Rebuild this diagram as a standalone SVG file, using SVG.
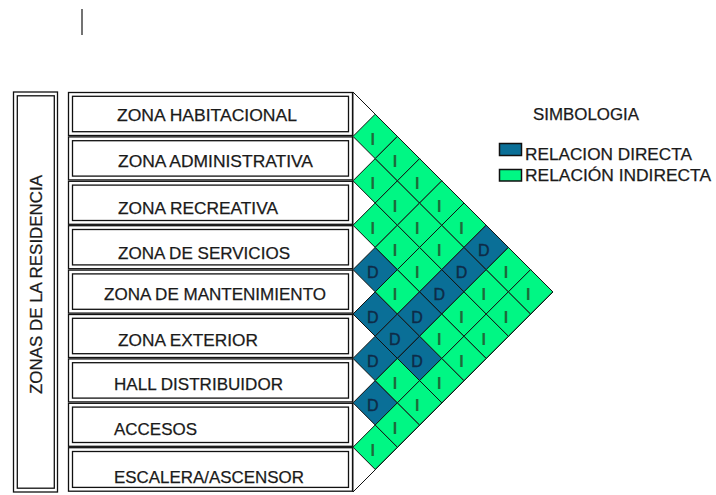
<svg xmlns="http://www.w3.org/2000/svg" xmlns:xlink="http://www.w3.org/1999/xlink" width="716" height="495" viewBox="0 0 716 495">
<style>
.t{font-family:"Liberation Sans",Arial,sans-serif;font-size:17px;fill:#1a1a1a;stroke:#1a1a1a;stroke-width:0.25}
.ob{fill:#fff;stroke:#111;stroke-width:1.3}
.ib{fill:none;stroke:#111;stroke-width:1.3}
.gi{fill:#00F784;stroke:#111;stroke-width:1}
.bd{fill:#0A6F97;stroke:#111;stroke-width:1}
.li{font-family:"Liberation Sans",Arial,sans-serif;font-size:16px;font-weight:bold;fill:#1E6A3A;text-anchor:middle}
.ld{font-family:"Liberation Sans",Arial,sans-serif;font-size:16px;fill:#0E2B47;stroke:#0E2B47;stroke-width:0.4;text-anchor:middle}
</style>
<defs>
<g id="cI"><polygon class="gi" points="-22.2,0 0,-22.2 22.2,0 0,22.2"/><text class="li" x="-2.5" y="8.5">I</text></g>
<g id="cD"><polygon class="bd" points="-22.2,0 0,-22.2 22.2,0 0,22.2"/><text class="ld" x="-2.5" y="8.5">D</text></g>
</defs>
<rect width="716" height="495" fill="#fff"/>
<line x1="82" y1="9" x2="82" y2="35" stroke="#444" stroke-width="1.5"/>

<g id="zonas-residencia">
<rect class="ob" x="13.5" y="92" width="44" height="400"/>
<rect class="ib" x="17.3" y="95.8" width="37" height="392.4"/>
<text class="t" transform="translate(42,394) rotate(-90)" textLength="219" lengthAdjust="spacingAndGlyphs">ZONAS DE LA RESIDENCIA</text>
</g>

<g id="zona-habitacional">
<rect class="ob" x="68.5" y="92.5" width="284" height="43"/><rect class="ib" x="72.5" y="96.3" width="276" height="35.4"/>
<text class="t" x="117" y="120.5" textLength="180" lengthAdjust="spacingAndGlyphs">ZONA HABITACIONAL</text>
</g>
<g id="zona-administrativa">
<rect class="ob" x="68.5" y="136.9" width="284" height="43"/><rect class="ib" x="72.5" y="140.7" width="276" height="35.4"/>
<text class="t" x="118" y="166.5" textLength="195" lengthAdjust="spacingAndGlyphs">ZONA ADMINISTRATIVA</text>
</g>
<g id="zona-recreativa">
<rect class="ob" x="68.5" y="181.3" width="284" height="43"/><rect class="ib" x="72.5" y="185.1" width="276" height="35.4"/>
<text class="t" x="118" y="213.5" textLength="160" lengthAdjust="spacingAndGlyphs">ZONA RECREATIVA</text>
</g>
<g id="zona-servicios">
<rect class="ob" x="68.5" y="225.7" width="284" height="43"/><rect class="ib" x="72.5" y="229.5" width="276" height="35.4"/>
<text class="t" x="118" y="258.5" textLength="172" lengthAdjust="spacingAndGlyphs">ZONA DE SERVICIOS</text>
</g>
<g id="zona-mantenimiento">
<rect class="ob" x="68.5" y="270.1" width="284" height="43"/><rect class="ib" x="72.5" y="273.9" width="276" height="35.4"/>
<text class="t" x="104" y="299.5" textLength="222" lengthAdjust="spacingAndGlyphs">ZONA DE MANTENIMIENTO</text>
</g>
<g id="zona-exterior">
<rect class="ob" x="68.5" y="314.5" width="284" height="43"/><rect class="ib" x="72.5" y="318.3" width="276" height="35.4"/>
<text class="t" x="118" y="345.5" textLength="140" lengthAdjust="spacingAndGlyphs">ZONA EXTERIOR</text>
</g>
<g id="hall-distribuidor">
<rect class="ob" x="68.5" y="358.9" width="284" height="43"/><rect class="ib" x="72.5" y="362.7" width="276" height="35.4"/>
<text class="t" x="114" y="389.5" textLength="169" lengthAdjust="spacingAndGlyphs">HALL DISTRIBUIDOR</text>
</g>
<g id="accesos">
<rect class="ob" x="68.5" y="403.3" width="284" height="43"/><rect class="ib" x="72.5" y="407.1" width="276" height="35.4"/>
<text class="t" x="114" y="434.5" textLength="83" lengthAdjust="spacingAndGlyphs">ACCESOS</text>
</g>
<g id="escalera-ascensor">
<rect class="ob" x="68.5" y="447.7" width="284" height="43.5"/><rect class="ib" x="72.5" y="451.5" width="276" height="35.9"/>
<text class="t" x="114" y="482.5" textLength="190" lengthAdjust="spacingAndGlyphs">ESCALERA/ASCENSOR</text>
</g>

<g id="matriz">
<polygon points="353,92 553,292 353,492" fill="#fff" stroke="#111" stroke-width="1"/>
<use xlink:href="#cI" x="375.2" y="136.4"/>
<use xlink:href="#cI" x="375.2" y="180.8"/>
<use xlink:href="#cI" x="375.2" y="225.2"/>
<use xlink:href="#cD" x="375.2" y="269.6"/>
<use xlink:href="#cD" x="375.2" y="314"/>
<use xlink:href="#cD" x="375.2" y="358.4"/>
<use xlink:href="#cD" x="375.2" y="402.8"/>
<use xlink:href="#cI" x="375.2" y="447.2"/>
<use xlink:href="#cI" x="397.4" y="158.6"/>
<use xlink:href="#cI" x="397.4" y="203"/>
<use xlink:href="#cI" x="397.4" y="247.4"/>
<use xlink:href="#cI" x="397.4" y="291.8"/>
<use xlink:href="#cD" x="397.4" y="336.2"/>
<use xlink:href="#cI" x="397.4" y="380.6"/>
<use xlink:href="#cI" x="397.4" y="425"/>
<use xlink:href="#cI" x="419.6" y="180.8"/>
<use xlink:href="#cI" x="419.6" y="225.2"/>
<use xlink:href="#cI" x="419.6" y="269.6"/>
<use xlink:href="#cD" x="419.6" y="314"/>
<use xlink:href="#cD" x="419.6" y="358.4"/>
<use xlink:href="#cI" x="419.6" y="402.8"/>
<use xlink:href="#cI" x="441.8" y="203"/>
<use xlink:href="#cI" x="441.8" y="247.4"/>
<use xlink:href="#cD" x="441.8" y="291.8"/>
<use xlink:href="#cI" x="441.8" y="336.2"/>
<use xlink:href="#cI" x="441.8" y="380.6"/>
<use xlink:href="#cI" x="464" y="225.2"/>
<use xlink:href="#cD" x="464" y="269.6"/>
<use xlink:href="#cI" x="464" y="314"/>
<use xlink:href="#cI" x="464" y="358.4"/>
<use xlink:href="#cD" x="486.2" y="247.4"/>
<use xlink:href="#cI" x="486.2" y="291.8"/>
<use xlink:href="#cI" x="486.2" y="336.2"/>
<use xlink:href="#cI" x="508.4" y="269.6"/>
<use xlink:href="#cI" x="508.4" y="314"/>
<use xlink:href="#cI" x="530.6" y="291.8"/>
</g>

<g id="simbologia">
<text class="t" x="533" y="120" textLength="106" lengthAdjust="spacingAndGlyphs">SIMBOLOGIA</text>
<rect x="499.5" y="143.5" width="22" height="12" fill="#0A6F97" stroke="#111" stroke-width="1.5"/>
<text class="t" x="525" y="160" textLength="167" lengthAdjust="spacingAndGlyphs">RELACION DIRECTA</text>
<rect x="499.5" y="169.5" width="22" height="11.5" fill="#00F784" stroke="#111" stroke-width="1.5"/>
<text class="t" x="525" y="180.5" textLength="186" lengthAdjust="spacingAndGlyphs">RELACIÓN INDIRECTA</text>
</g>
</svg>
